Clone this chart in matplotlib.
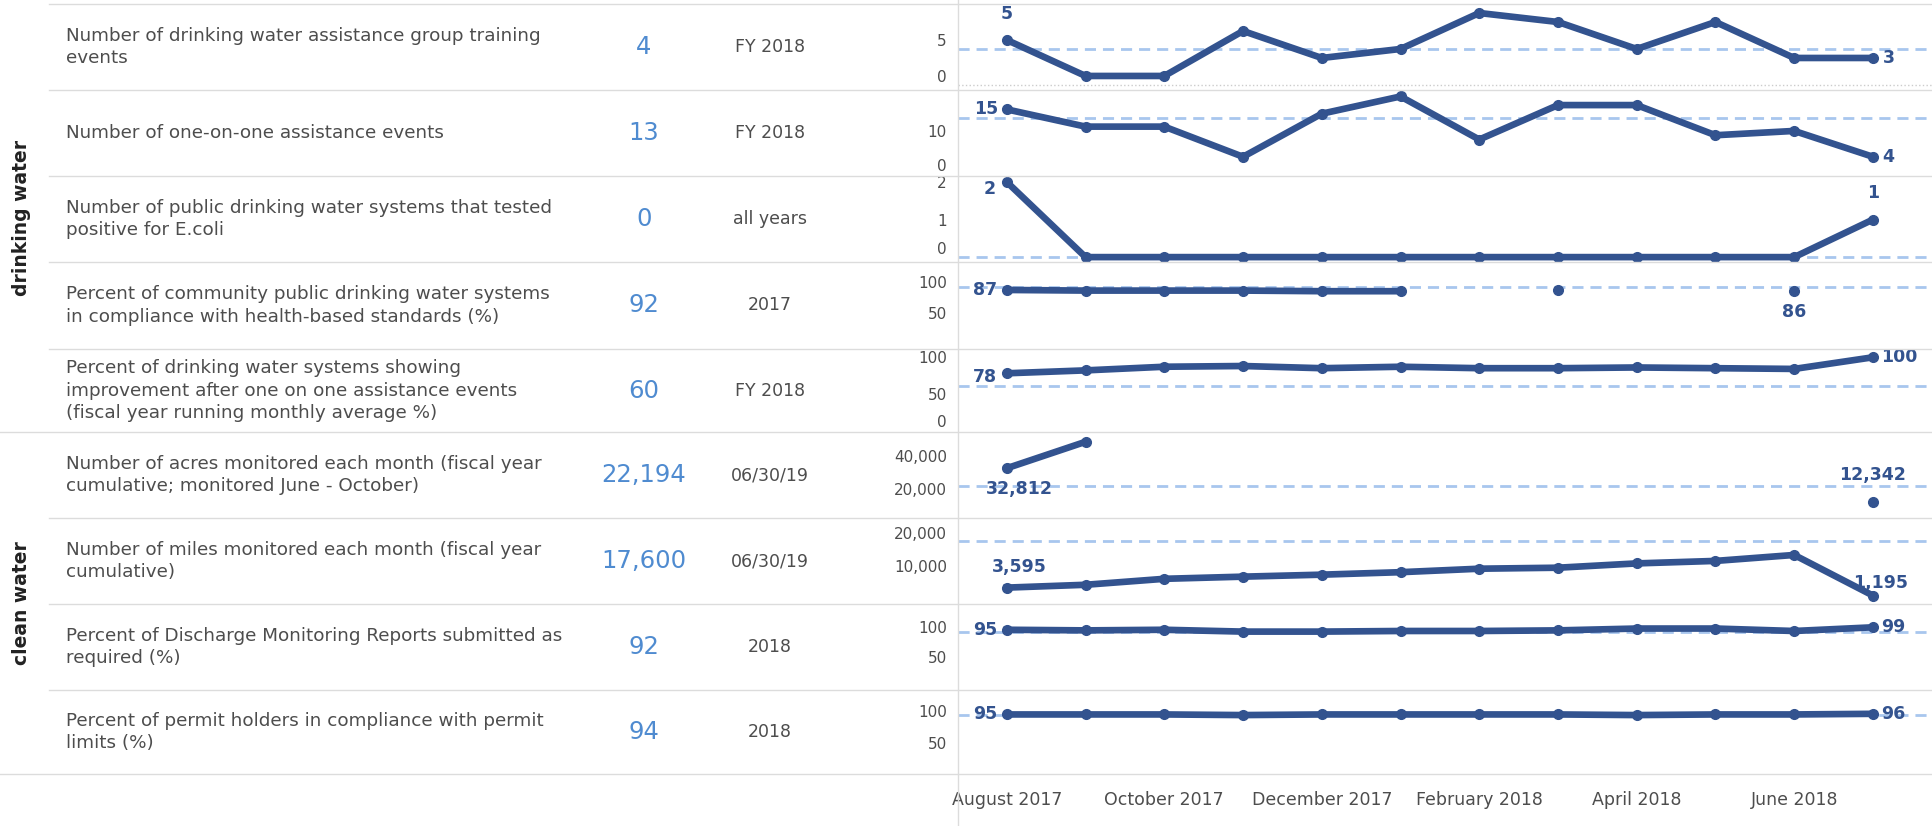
import numpy as np
import matplotlib
matplotlib.use('Agg')
import matplotlib.pyplot as plt
from matplotlib.lines import Line2D

nan = np.nan

# months Aug 2017 .. Jul 2018
months = ['Aug 2017', 'Sep 2017', 'Oct 2017', 'Nov 2017', 'Dec 2017', 'Jan 2018',
          'Feb 2018', 'Mar 2018', 'Apr 2018', 'May 2018', 'Jun 2018', 'Jul 2018']
x_tick_idx = [0, 2, 4, 6, 8, 10]
x_tick_labels = ['August 2017', 'October 2017', 'December 2017', 'February 2018',
                 'April 2018', 'June 2018']

groups = ['drinking water', 'clean water']

descriptions = [
    "Number of drinking water assistance group training\nevents",
    "Number of one-on-one assistance events",
    "Number of public drinking water systems that tested\npositive for E.coli",
    "Percent of community public drinking water systems\nin compliance with health-based standards (%)",
    "Percent of drinking water systems showing\nimprovement after one on one assistance events\n(fiscal year running monthly average %)",
    "Number of acres monitored each month (fiscal year\ncumulative; monitored June - October)",
    "Number of miles monitored each month (fiscal year\ncumulative)",
    "Percent of Discharge Monitoring Reports submitted as\nrequired (%)",
    "Percent of permit holders in compliance with permit\nlimits (%)",
]
headline = ['4', '13', '0', '92', '60', '22,194', '17,600', '92', '94']
periods = ['FY 2018', 'FY 2018', 'all years', '2017', 'FY 2018', '06/30/19', '06/30/19', '2018', '2018']
reference = [4, 13, 0, 92, 60, 22194, 17600, 92, 94]

training = [5, 1, 1, 6, 3, 4, 8, 7, 4, 7, 3, 3]
one_on_one = [15, 11, 11, 4, 14, 18, 8, 16, 16, 9, 10, 4]
ecoli = [2, 0, 0, 0, 0, 0, 0, 0, 0, 0, 0, 1]
health_std = [87, 86, 86, 86, 85, 85, nan, 87, nan, nan, 86, nan]
improvement = [78, 82, 87, 88, 85, 87, 85, 85, 86, 85, 84, 100]
acres = [32812, 49000, nan, nan, nan, nan, nan, nan, nan, nan, nan, 12342]
miles = [3595, 4450, 6250, 6900, 7500, 8250, 9300, 9600, 10900, 11650, 13450, 1195]
dmr = [95, 94, 95, 92, 92, 93, 93, 94, 97, 97, 93, 99]
permit = [95, 95, 95, 94, 95, 95, 95, 95, 94, 95, 95, 96]
series = [training, one_on_one, ecoli, health_std, improvement, acres, miles, dmr, permit]

y_ticks = [[0, 5], [0, 10], [0, 1, 2], [50, 100], [0, 50, 100],
           [20000, 40000], [10000, 20000], [50, 100], [50, 100]]

# ---- layout (pixels of the 1932x826 picture) ----
W, H = 1932, 826
row_edges = [4, 90, 176, 262, 349, 432, 518, 604, 690, 774]
y_limits = [(-0.56, 9.0), (-0.46, 19.5), (-0.13, 2.16), (-8, 132), (-2.75, 111.4),
            (2300, 55000), (-1350, 24600), (-3.2, 137), (0, 134)]
chart_left = 958

# point labels: (index, text, dx pt, dy pt, ha, va)
point_labels = [
    [(0, '5', 0, 12, 'center', 'bottom'), (11, '3', 7, 0, 'left', 'center')],
    [(0, '15', -6, 0, 'right', 'center'), (11, '4', 7, 0, 'left', 'center')],
    [(0, '2', -8, -5, 'right', 'center'), (11, '1', 0, 13, 'center', 'bottom')],
    [(0, '87', -7, 0, 'right', 'center'), (10, '86', 0, -9, 'center', 'top')],
    [(0, '78', -7, -3, 'right', 'center'), (11, '100', 6, 0, 'left', 'center')],
    [(0, '32,812', -15, -15, 'left', 'center'), (11, '12,342', 0, 13, 'center', 'bottom')],
    [(0, '3,595', -11, 15, 'left', 'center'), (11, '1,195', -14, 9, 'left', 'center')],
    [(0, '95', -7, 0, 'right', 'center'), (11, '99', 6, 0, 'left', 'center')],
    [(0, '95', -7, 0, 'right', 'center'), (11, '96', 6, 0, 'left', 'center')],
]

LINE = '#33538f'
REF = '#a8c6ee'
BLUE = '#4f8bd0'
GREY = '#4d4d4d'
SEP = '#dcdcdc'

plt.rcParams['font.family'] = ['DejaVu Sans']

fig = plt.figure(figsize=(W / 100, H / 100), dpi=100)
fig.patch.set_facecolor('white')


def fx(x):
    return x / W


def fy(y):
    return 1 - y / H


def hline(y, x0, x1):
    fig.add_artist(Line2D([fx(x0), fx(x1)], [fy(y), fy(y)], transform=fig.transFigure,
                          color=SEP, lw=1))


x = np.arange(len(months))
for i, vals in enumerate(series):
    top, bot = row_edges[i], row_edges[i + 1]
    ax = fig.add_axes([fx(chart_left), fy(bot), fx(W - chart_left), (bot - top) / H])
    ax.set_xlim(-0.62, 11.75)
    ax.set_ylim(*y_limits[i])
    for s in ax.spines.values():
        s.set_visible(False)
    if i == 0:
        ax.axhline(0, color='#cccccc', lw=1, ls=':')
    ax.axhline(reference[i], color=REF, lw=2, ls=(0, (4, 2.5)), zorder=1)
    ax.plot(x, vals, color=LINE, lw=4.8, marker='o', ms=7, zorder=3)

    labels = [f'{t:,}' for t in y_ticks[i]]
    ax.set_yticks(y_ticks[i], labels=labels)
    for t in ax.get_yticklabels():
        if t.get_text() == '0':
            t.set_verticalalignment('bottom')
    ax.tick_params(axis='y', length=0, labelsize=11, colors=GREY, pad=8)

    if i == len(series) - 1:
        ax.set_xticks(x_tick_idx, labels=x_tick_labels)
        ax.tick_params(axis='x', length=0, labelsize=12.5, colors=GREY, pad=12)
    else:
        ax.set_xticks([])

    for idx, txt, dx, dy, ha, va in point_labels[i]:
        ax.annotate(txt, (x[idx], vals[idx]), xytext=(dx, dy), textcoords='offset points',
                    ha=ha, va=va, fontsize=12.5, fontweight='bold', color=LINE, zorder=4)

    # left table
    yc = fy((top + bot) / 2)
    fig.text(fx(66), yc, descriptions[i], ha='left', va='center', fontsize=13.2,
             color=GREY, linespacing=1.32)
    fig.text(fx(644), yc, headline[i], ha='center', va='center', fontsize=17.5, color=BLUE)
    fig.text(fx(770), yc, periods[i], ha='center', va='center', fontsize=12.5, color=GREY)

# separators
hline(row_edges[0], 49, W)
for k, y in enumerate(row_edges[1:], start=1):
    if k in (5, 9):
        hline(y, 0, W)
    else:
        hline(y, 49, W)
fig.add_artist(Line2D([fx(chart_left), fx(chart_left)], [0, 1], transform=fig.transFigure,
                      color=SEP, lw=1))

# group labels
fig.text(fx(22), fy((row_edges[0] + row_edges[5]) / 2), groups[0], rotation=90,
         ha='center', va='center', fontsize=13.5, fontweight='bold', color='#222222')
fig.text(fx(22), fy((row_edges[5] + row_edges[9]) / 2), groups[1], rotation=90,
         ha='center', va='center', fontsize=13.5, fontweight='bold', color='#222222')

fig.savefig('out.png', dpi=100)
